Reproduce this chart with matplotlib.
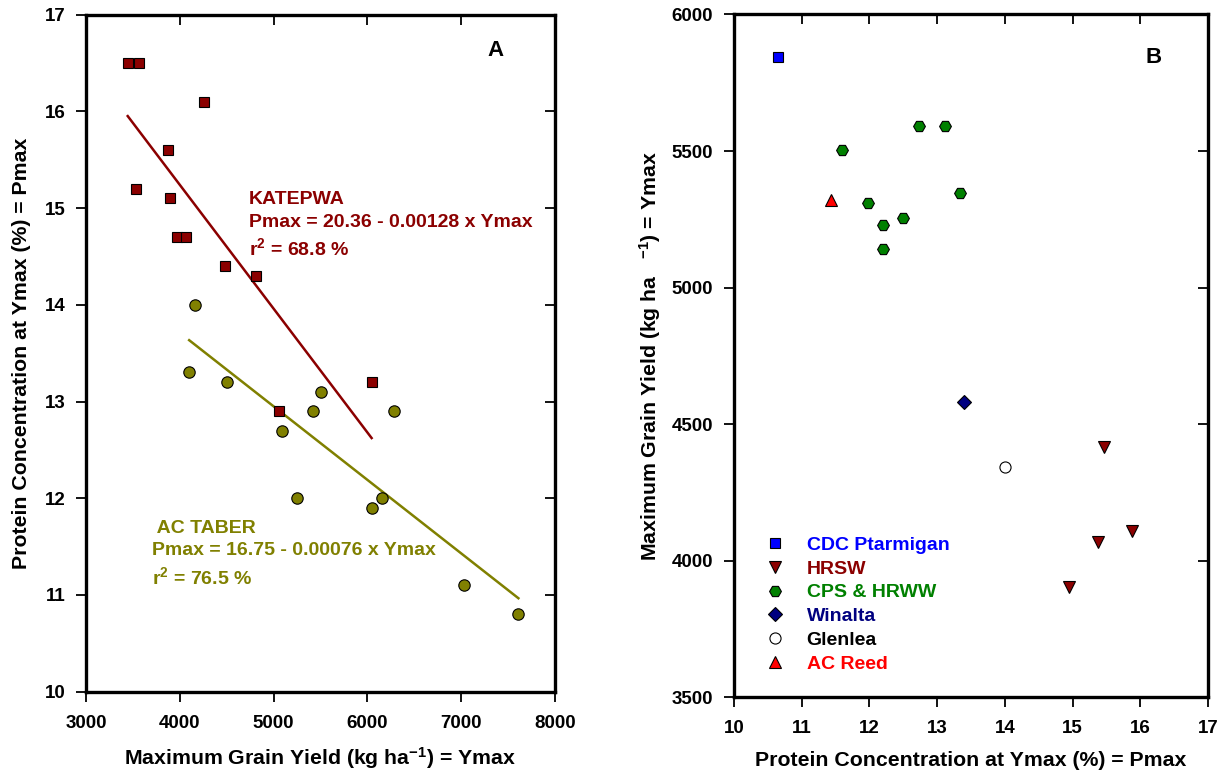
"""Grain yield vs protein concentration, two panels."""
import matplotlib
import matplotlib.pyplot as plt
import numpy as np

matplotlib.use("Agg")

plt.rcParams["font.family"] = ["Liberation Sans", "DejaVu Sans"]
plt.rcParams["font.weight"] = "bold"
plt.rcParams["mathtext.fontset"] = "custom"
plt.rcParams["mathtext.rm"] = "Liberation Sans:bold"
plt.rcParams["mathtext.bf"] = "Liberation Sans:bold"
plt.rcParams["mathtext.default"] = "bf"

DARK_RED = "#8b0000"
OLIVE = "#808000"

# --- panel A data: Ymax (kg/ha) vs Pmax (%) ---
katepwa_y = [3445, 3560, 4255, 3875, 3535, 3895, 3970, 4065, 4485, 4810, 6045, 5055]
katepwa_p = [16.5, 16.5, 16.1, 15.6, 15.2, 15.1, 14.7, 14.7, 14.4, 14.3, 13.2, 12.9]
katepwa_fit = (20.36, -0.00128)

taber_y = [4160, 4100, 4500, 5510, 5420, 6280, 5090, 5250, 6050, 6160, 7030, 7610]
taber_p = [14.0, 13.3, 13.2, 13.1, 12.9, 12.9, 12.7, 12.0, 11.9, 12.0, 11.1, 10.8]
taber_fit = (16.75, -0.00076)

# --- panel B data: Pmax (%) vs Ymax (kg/ha) by class ---
ptarmigan_p = [10.65]
ptarmigan_y = [5845]
hrsw_p = [15.47, 15.88, 15.38, 14.95]
hrsw_y = [4415, 4108, 4070, 3902]
cps_p = [11.6, 12.73, 13.12, 13.34, 11.98, 12.5, 12.2, 12.2]
cps_y = [5505, 5590, 5590, 5345, 5310, 5255, 5230, 5140]
winalta_p = [13.4]
winalta_y = [4580]
glenlea_p = [14.0]
glenlea_y = [4345]
acreed_p = [11.43]
acreed_y = [5320]


def style_axes(ax):
    for sp in ax.spines.values():
        sp.set_linewidth(2.4)
    ax.tick_params(axis="both", which="major", length=7.5, width=1.3,
                   labelsize=13.5, direction="out", top=True, right=True)
    ax.tick_params(axis="x", pad=9)
    ax.tick_params(axis="y", pad=7.5)
    # top and right ticks point inward
    for t in ax.xaxis.get_major_ticks():
        t.tick2line.set_marker(matplotlib.lines.TICKDOWN)
    for t in ax.yaxis.get_major_ticks():
        t.tick2line.set_marker(matplotlib.lines.TICKLEFT)
    for lab in ax.get_xticklabels() + ax.get_yticklabels():
        lab.set_fontweight("bold")


fig = plt.figure(figsize=(12.23, 7.74), dpi=100)

# ---------------- panel A ----------------
ax1 = fig.add_axes([0.0703, 0.1063, 0.3835, 0.8749])
ax1.set_xlim(3000, 8000)
ax1.set_ylim(10, 17)
ax1.set_xticks(np.arange(3000, 8001, 1000))
ax1.set_yticks(np.arange(10, 18, 1))

for ys, ps, (a, b), col, mk, ms in [
    (katepwa_y, katepwa_p, katepwa_fit, DARK_RED, "s", 7.4),
    (taber_y, taber_p, taber_fit, OLIVE, "o", 8.2),
]:
    xs = np.array([min(ys), max(ys)])
    ax1.plot(xs, a + b * xs, color=col, lw=1.8, zorder=2)
    ax1.plot(ys, ps, mk, color=col, markersize=ms, markeredgecolor="black",
             markeredgewidth=0.8, zorder=3)

ax1.text(4740, 14.82, "KATEPWA\nPmax = 20.36 - 0.00128 x Ymax\nr$^2$ = 68.8 %",
         color=DARK_RED, fontsize=14, fontweight="bold", va="center",
         ha="left", linespacing=1.4)
ax1.text(3700, 11.42, " AC TABER\nPmax = 16.75 - 0.00076 x Ymax\nr$^2$ = 76.5 %",
         color=OLIVE, fontsize=14, fontweight="bold", va="center",
         ha="left", linespacing=1.4)
ax1.text(0.8736, 0.9476, "A", transform=ax1.transAxes, fontsize=16,
         fontweight="bold", ha="center", va="center")

ax1.set_xlabel("Maximum Grain Yield (kg ha$^{-1}$) = Ymax", fontsize=15.3,
               fontweight="bold", labelpad=10)
ax1.set_ylabel("Protein Concentration at Ymax (%) = Pmax", fontsize=15.3,
               fontweight="bold", labelpad=10)
style_axes(ax1)

# ---------------- panel B ----------------
ax2 = fig.add_axes([0.6002, 0.0991, 0.3876, 0.8822])
ax2.set_xlim(10, 17)
ax2.set_ylim(3500, 6000)
ax2.set_xticks(np.arange(10, 18, 1))
ax2.set_yticks(np.arange(3500, 6001, 500))

series_b = [
    (ptarmigan_p, ptarmigan_y, "s", "#0000ff", 6.5, "CDC Ptarmigan", "#0000ff"),
    (hrsw_p, hrsw_y, "v", DARK_RED, 8, "HRSW", DARK_RED),
    (cps_p, cps_y, "H", "#008000", 8.5, "CPS & HRWW", "#008000"),
    (winalta_p, winalta_y, "D", "#000080", 7, "Winalta", "#000080"),
    (glenlea_p, glenlea_y, "o", "white", 8, "Glenlea", "black"),
    (acreed_p, acreed_y, "^", "#ff0000", 8, "AC Reed", "#ff0000"),
]
handles = []
for px, py, mk, col, ms, lab, tcol in series_b:
    h, = ax2.plot(px, py, mk, color=col, markersize=ms, markeredgecolor="black",
                  markeredgewidth=0.8, label=lab, zorder=3)
    handles.append(h)

leg = ax2.legend(handles=handles, loc="lower left", bbox_to_anchor=(0.03, 0.01),
                 frameon=False, fontsize=14, handletextpad=1.1,
                 labelspacing=0.32, handlelength=1.0)
for txt, s in zip(leg.get_texts(), series_b):
    txt.set_color(s[6])
    txt.set_fontweight("bold")

ax2.text(0.886, 0.937, "B", transform=ax2.transAxes, fontsize=16,
         fontweight="bold", ha="center", va="center")
ax2.set_xlabel("Protein Concentration at Ymax (%) = Pmax", fontsize=15.3,
               fontweight="bold", labelpad=10)
ax2.set_ylabel("Maximum Grain Yield (kg ha   $^{-1}$) = Ymax", fontsize=15.3,
               fontweight="bold", labelpad=6)
style_axes(ax2)

fig.savefig("out.png", dpi=100, facecolor="white")
